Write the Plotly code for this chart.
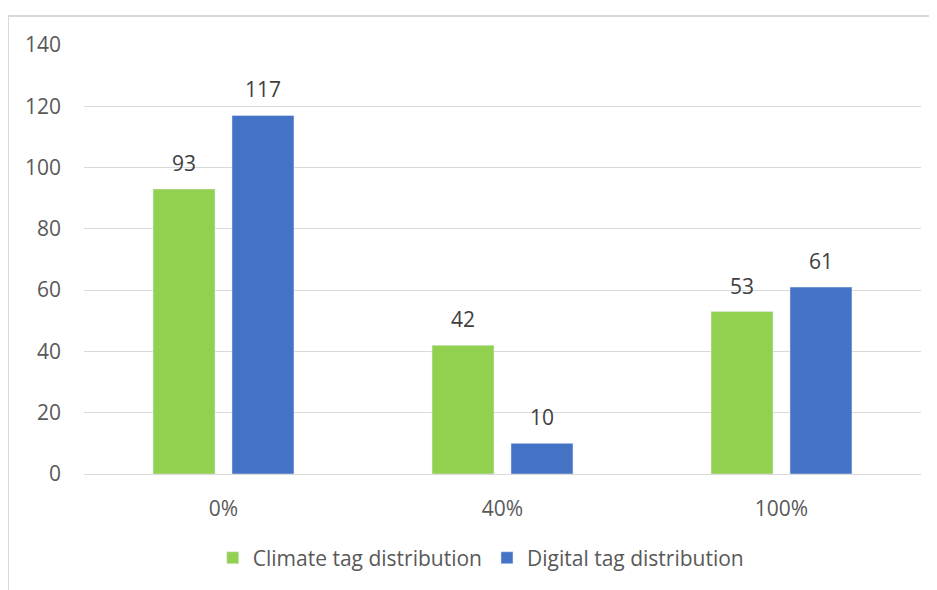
import plotly.graph_objects as go

categories = ["0%", "40%", "100%"]
climate = [93, 42, 53]
digital = [117, 10, 61]

font_family = "Open Sans, Noto Sans, sans-serif"
text_color = "#595959"

fig = go.Figure()
fig.add_trace(go.Bar(x=categories, y=climate, name="Climate tag distribution",
                     marker_color="#92D050"))
fig.add_trace(go.Bar(x=categories, y=digital, name="Digital tag distribution",
                     marker_color="#4472C4"))

# value labels above each bar (offset left/right to sit over grouped bars)
for vals, dx in ((climate, -39.5), (digital, 39.5)):
    for c, v in zip(categories, vals):
        fig.add_annotation(x=c, y=v, text=str(v), showarrow=False,
                           xshift=dx, yshift=26, yanchor="middle",
                           font=dict(size=21, color="#404040"))

fig.update_layout(
    width=937, height=590,
    margin=dict(l=76, r=24, t=37, b=124),
    paper_bgcolor="white", plot_bgcolor="white",
    font=dict(family=font_family, size=21, color=text_color),
    barmode="group", bargap=0.434, bargroupgap=0.215,
    showlegend=True,
    legend=dict(orientation="h", x=0.474, xanchor="center", y=-0.196, yanchor="middle",
                font=dict(size=21, color=text_color), itemwidth=30),
    shapes=[dict(type="rect", xref="paper", yref="paper",
                 x0=-0.0908, x1=1.05, y0=-0.4, y1=1.0676,
                 line=dict(color="#D9D9D9", width=2), layer="below")],
)
fig.update_yaxes(range=[0, 140], dtick=20, showgrid=True, gridcolor="#D9D9D9",
                 gridwidth=1, zeroline=False, ticks="", ticklabelstandoff=22,
                 tickfont=dict(size=21, color=text_color))
fig.update_xaxes(showline=True, linecolor="#D9D9D9", linewidth=1, ticks="",
                 tickfont=dict(size=21, color=text_color), ticklabelstandoff=16)

fig.write_html("out.html")
